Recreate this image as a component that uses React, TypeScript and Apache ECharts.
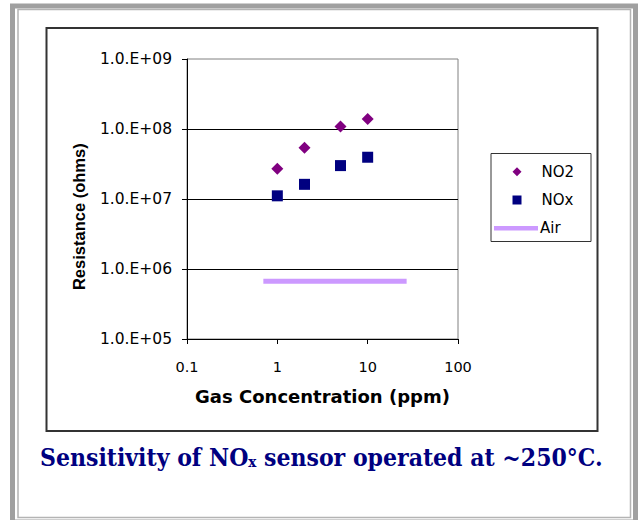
import React, { useEffect, useRef } from "react";
import * as echarts from "echarts";

const seriesNames = ["NO2", "NOx", "Air"];
const no2X = [1, 2, 5, 10];
const no2Y = [2.7e7, 5.4e7, 1.09e8, 1.39e8];
const noxX = [1, 2, 5, 10];
const noxY = [1.11e7, 1.62e7, 3.0e7, 3.95e7];
const airX = [0.7, 27];
const airY = [6.7e5, 6.7e5];
const yTickLabels = ["1.0.E+05", "1.0.E+06", "1.0.E+07", "1.0.E+08", "1.0.E+09"];
const xTickLabels = ["0.1", "1", "10", "100"];
const xTitle = "Gas Concentration (ppm)";
const yTitle = "Resistance (ohms)";

export default function App() {
  const ref = useRef<HTMLDivElement>(null);
  useEffect(() => {
    if (!ref.current) return;
    const chart = echarts.init(ref.current, undefined, { renderer: "svg" });
    const zip = (xs: number[], ys: number[]) => xs.map((x, i) => [x, ys[i]]);
    const legendText = {
      fontFamily: "DejaVu Sans",
      fontSize: 15,
      lineHeight: 16,
      color: "#000",
    };
    chart.setOption({
      animation: false,
      backgroundColor: "#fff",
      grid: {
        left: 187,
        top: 59,
        right: 181,
        bottom: 181,
        show: true,
        borderColor: "#808080",
        borderWidth: 1,
        backgroundColor: "transparent",
      },
      xAxis: {
        type: "log",
        logBase: 10,
        min: 0.1,
        max: 100,
        name: xTitle,
        nameLocation: "middle",
        nameGap: 48,
        nameTextStyle: {
          fontFamily: "DejaVu Sans",
          fontWeight: "bold",
          fontSize: 18,
          color: "#000",
        },
        axisLine: { show: true, lineStyle: { color: "#000", width: 1 } },
        axisTick: { show: true, inside: false, length: 5, lineStyle: { color: "#000" } },
        axisLabel: {
          margin: 20,
          fontFamily: "DejaVu Sans",
          fontSize: 14.5,
          color: "#000",
          formatter: (v: number) => xTickLabels[Math.round(Math.log10(v)) + 1] ?? "",
        },
        splitLine: { show: false },
        minorTick: { show: false },
      },
      yAxis: {
        type: "log",
        logBase: 10,
        min: 1e5,
        max: 1e9,
        axisLine: { show: true, lineStyle: { color: "#000", width: 1 } },
        axisTick: { show: true, inside: false, length: 5, lineStyle: { color: "#000" } },
        axisLabel: {
          margin: 15,
          fontFamily: "DejaVu Sans",
          fontSize: 15.5,
          color: "#000",
          formatter: (v: number) => yTickLabels[Math.round(Math.log10(v)) - 5] ?? "",
        },
        splitLine: {
          show: true,
          showMinLine: false,
          showMaxLine: false,
          lineStyle: { color: "#000", width: 1 },
        },
        minorTick: { show: false },
      },
      legend: [
        {
          orient: "vertical",
          left: 512.5,
          top: 163.7,
          padding: 0,
          itemWidth: 9,
          itemHeight: 9,
          data: [{ name: seriesNames[0], icon: "diamond" }],
          textStyle: { ...legendText, padding: [0, 0, 0, 15] },
        },
        {
          orient: "vertical",
          left: 512.5,
          top: 192,
          padding: 0,
          itemWidth: 9,
          itemHeight: 9,
          data: [{ name: seriesNames[1], icon: "rect" }],
          textStyle: { ...legendText, padding: [0, 0, 0, 15] },
        },
        {
          orient: "vertical",
          left: 494,
          top: 220.3,
          padding: 0,
          itemWidth: 44,
          itemHeight: 4.5,
          data: [{ name: seriesNames[2], icon: "rect" }],
          textStyle: { ...legendText, padding: [0, 0, 0, -3] },
        },
      ],
      series: [
        {
          name: seriesNames[0],
          type: "scatter",
          symbol: "diamond",
          symbolSize: 12,
          itemStyle: { color: "#800080", opacity: 1 },
          data: zip(no2X, no2Y),
        },
        {
          name: seriesNames[1],
          type: "scatter",
          symbol: "rect",
          symbolSize: 11,
          itemStyle: { color: "#000080", opacity: 1 },
          data: zip(noxX, noxY),
        },
        {
          name: seriesNames[2],
          type: "line",
          symbol: "none",
          itemStyle: { color: "#CC99FF" },
          lineStyle: { color: "#CC99FF", width: 5 },
          data: zip(airX, airY),
        },
      ],
      graphic: [
        {
          type: "rect",
          silent: true,
          shape: { x: 12.5, y: 6, width: 623, height: 516 },
          style: { fill: "none", stroke: "#a0a0a0", lineWidth: 5 },
        },
        {
          type: "rect",
          silent: true,
          shape: { x: 18, y: 9.5, width: 612.5, height: 508 },
          style: { fill: "none", stroke: "#b4b4b4", lineWidth: 1.5 },
        },
        {
          type: "rect",
          silent: true,
          shape: { x: 46.5, y: 28, width: 551, height: 403 },
          style: { fill: "none", stroke: "#333", lineWidth: 2 },
        },
        {
          type: "rect",
          silent: true,
          shape: { x: 491, y: 153.5, width: 100, height: 88 },
          style: { fill: "none", stroke: "#333", lineWidth: 1 },
        },
        {
          type: "text",
          silent: true,
          x: 78.7,
          y: 216.7,
          rotation: Math.PI / 2,
          style: {
            text: yTitle,
            fontFamily: "Liberation Sans",
            fontWeight: "bold",
            fontSize: 16.5,
            fill: "#000",
            align: "center",
            verticalAlign: "middle",
          },
        },
        {
          type: "text",
          silent: true,
          x: 40,
          y: 457.5,
          style: {
            text: "{a|Sensitivity of NO}{b|x}{a| sensor operated at ~250°C.}",
            align: "left",
            verticalAlign: "middle",
            fill: "#000080",
            rich: {
              a: {
                fontFamily: "'DejaVu Serif Condensed', 'DejaVu Serif'",
                fontWeight: "bold",
                fontSize: 24.5,
                lineHeight: 24,
                fill: "#000080",
              },
              b: {
                fontFamily: "'DejaVu Serif Condensed', 'DejaVu Serif'",
                fontSize: 15,
                fontWeight: "bold",
                lineHeight: 10,
                verticalAlign: "bottom",
                fill: "#000080",
              },
            },
          },
        },
      ],
    });
    return () => chart.dispose();
  }, []);
  return (
    <div
      ref={ref}
      style={{ position: "absolute", left: 0, top: 0, width: 639, height: 520, background: "#fff" }}
    />
  );
}
